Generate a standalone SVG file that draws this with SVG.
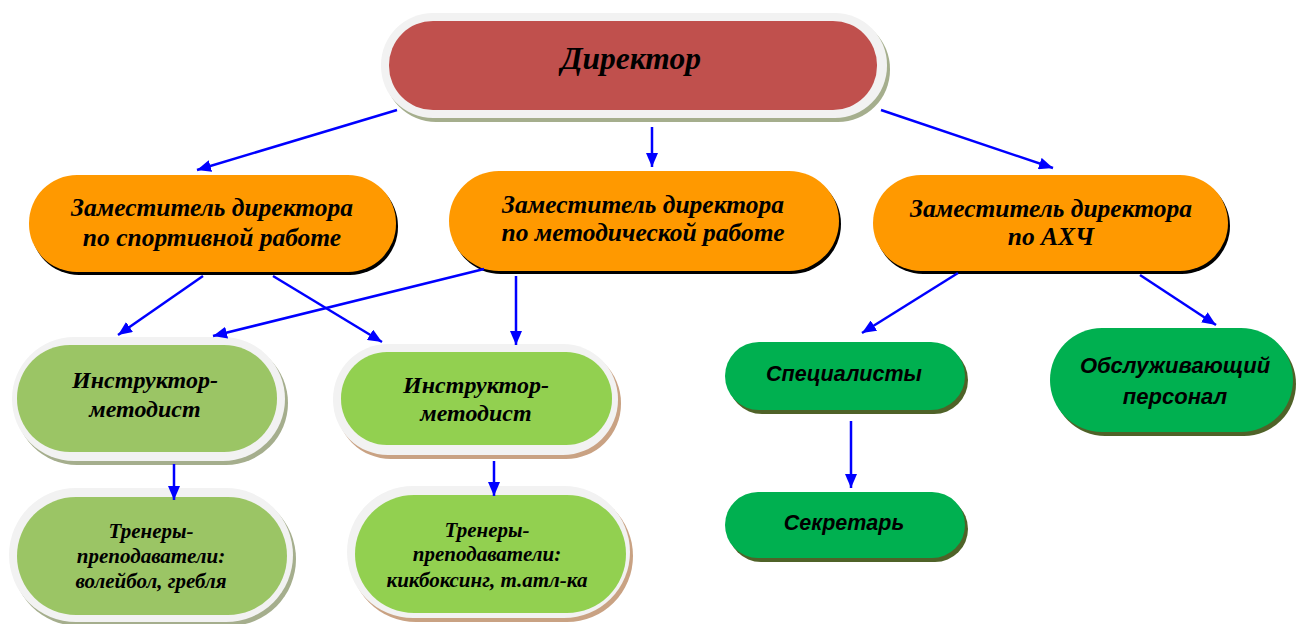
<svg xmlns="http://www.w3.org/2000/svg" width="1296" height="624" viewBox="0 0 1296 624">
<defs>
<marker id="ah" viewBox="0 0 14 12" refX="14" refY="6" markerWidth="14" markerHeight="12" markerUnits="userSpaceOnUse" orient="auto"><path d="M0,0 L14,6 L0,12 Z" fill="#0000FF"/></marker>
<style>
.ser{font-family:"Liberation Serif","Times New Roman",serif;font-weight:bold;font-style:italic;fill:#000;text-anchor:middle}
.san{font-family:"Liberation Sans",Arial,sans-serif;font-weight:bold;font-style:italic;fill:#000;text-anchor:middle}
.ring{fill:#F2F2F2}
.sh1{fill:#A5AE8D}
.sh2{fill:#C9A283}
.orsh{fill:#000}
.or{fill:#FF9900}
.g1{fill:#9BC565}
.g2{fill:#92D050}
.dg{fill:#00B050}
.dgsh{fill:#4F6228}
.con line{stroke:#0000FF;stroke-width:2.5;marker-end:url(#ah)}
</style>
</defs>
<rect width="1296" height="624" fill="#fff"/>
<g id="director">
<rect class="sh1" x="384" y="17" width="506" height="105" rx="52"/>
<rect class="ring" x="381" y="13" width="506" height="105" rx="52"/>
<rect x="389" y="21" width="488" height="89" rx="44" fill="#C0504D"/>
<text class="ser" x="631" y="69" font-size="31.5">Директор</text>
</g>
<g id="zam-sport">
<rect class="orsh" x="31" y="178" width="367" height="97" rx="48"/>
<rect class="or" x="29" y="175" width="367" height="97" rx="48"/>
<text class="ser" x="212" y="216" font-size="25.5">Заместитель директора</text>
<text class="ser" x="212" y="246" font-size="25.5">по спортивной работе</text>
</g>
<g id="zam-metod">
<rect class="orsh" x="451" y="174" width="390" height="100" rx="50"/>
<rect class="or" x="449" y="171" width="390" height="100" rx="50"/>
<text class="ser" x="643" y="213" font-size="25.5">Заместитель директора</text>
<text class="ser" x="643" y="241" font-size="25.5">по методической работе</text>
</g>
<g id="zam-ahch">
<rect class="orsh" x="875" y="178" width="355" height="96" rx="48"/>
<rect class="or" x="873" y="175" width="355" height="96" rx="48"/>
<text class="ser" x="1051" y="217" font-size="25.5">Заместитель директора</text>
<text class="ser" x="1051" y="245" font-size="25.5">по АХЧ</text>
</g>
<g id="instr1">
<rect class="sh1" x="15" y="341" width="273" height="124" rx="62"/>
<rect class="ring" x="12" y="337" width="273" height="124" rx="62"/>
<rect class="g1" x="17" y="345" width="260" height="107" rx="53"/>
<text class="ser" x="145" y="388" font-size="24">Инструктор-</text>
<text class="ser" x="145" y="417" font-size="24">методист</text>
</g>
<g id="instr2">
<rect class="sh2" x="336" y="348" width="285" height="111" rx="55"/>
<rect class="ring" x="333" y="344" width="285" height="111" rx="55"/>
<rect class="g2" x="341" y="352" width="271" height="93" rx="46"/>
<text class="ser" x="476" y="393" font-size="24">Инструктор-</text>
<text class="ser" x="476" y="421" font-size="24">методист</text>
</g>
<g id="trener1">
<rect class="sh1" x="12" y="492" width="284" height="134" rx="67"/>
<rect class="ring" x="9" y="488" width="284" height="134" rx="67"/>
<rect class="g1" x="17" y="497" width="270" height="118" rx="59"/>
<text class="ser" x="151" y="538" font-size="21">Тренеры-</text>
<text class="ser" x="151" y="563" font-size="21">преподаватели:</text>
<text class="ser" x="151" y="588" font-size="21">волейбол, гребля</text>
</g>
<g id="trener2">
<rect class="sh2" x="350" y="490" width="283" height="132" rx="66"/>
<rect class="ring" x="347" y="486" width="283" height="132" rx="66"/>
<rect class="g2" x="355" y="495" width="271" height="118" rx="59"/>
<text class="ser" x="487" y="537" font-size="21">Тренеры-</text>
<text class="ser" x="487" y="561" font-size="21">преподаватели:</text>
<text class="ser" x="487" y="587" font-size="21">кикбоксинг, т.атл-ка</text>
</g>
<g id="spec">
<rect class="dgsh" x="728" y="346" width="240" height="68" rx="34"/>
<rect class="dg" x="725" y="342" width="240" height="68" rx="34"/>
<text class="san" x="844" y="381" font-size="21.5">Специалисты</text>
</g>
<g id="secr">
<rect class="dgsh" x="728" y="496" width="240" height="66" rx="33"/>
<rect class="dg" x="725" y="492" width="240" height="66" rx="33"/>
<text class="san" x="844" y="530" font-size="21.5">Секретарь</text>
</g>
<g id="obsl">
<rect class="dgsh" x="1053" y="332" width="243" height="104" rx="52"/>
<rect class="dg" x="1050" y="328" width="243" height="104" rx="52"/>
<text class="san" x="1175" y="373" font-size="22">Обслуживающий</text>
<text class="san" x="1175" y="404" font-size="22">персонал</text>
</g>
<g class="con">
<line x1="397" y1="110" x2="197" y2="170"/>
<line x1="652" y1="127" x2="652" y2="167"/>
<line x1="881" y1="110" x2="1053" y2="168"/>
<line x1="203" y1="276" x2="118" y2="335"/>
<line x1="273" y1="276" x2="382" y2="342"/>
<line x1="484" y1="269" x2="213" y2="336"/>
<line x1="516" y1="276" x2="516" y2="345"/>
<line x1="174" y1="464" x2="174" y2="500"/>
<line x1="494" y1="461" x2="494" y2="496"/>
<line x1="958" y1="273" x2="862" y2="333"/>
<line x1="1140" y1="275" x2="1216" y2="325"/>
<line x1="851" y1="421" x2="851" y2="488"/>
</g>
</svg>
